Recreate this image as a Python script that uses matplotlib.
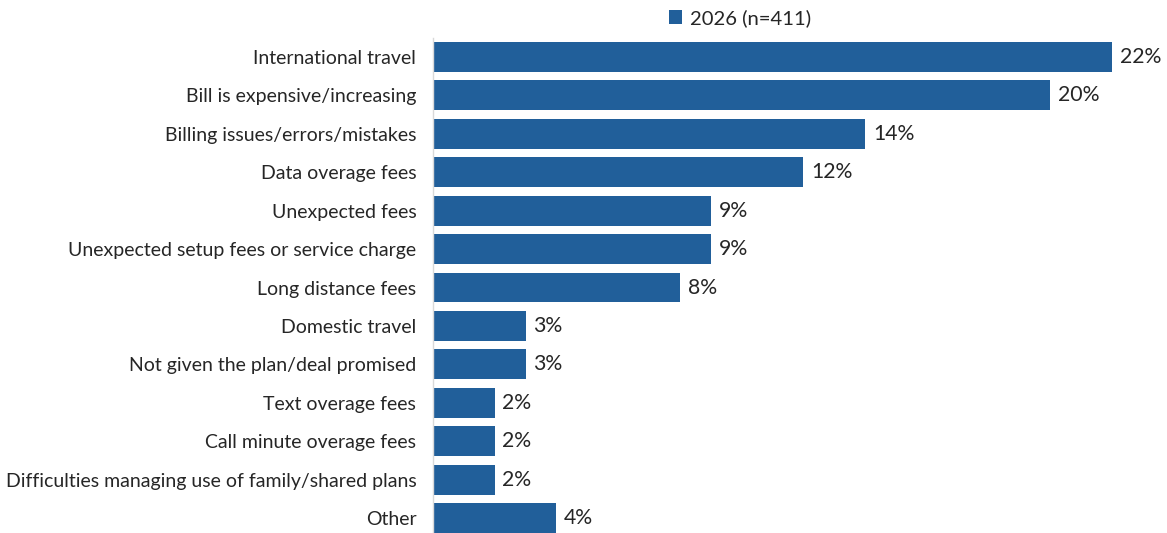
import matplotlib
matplotlib.use("Agg")
import matplotlib.pyplot as plt

categories = [
    "International travel",
    "Bill is expensive/increasing",
    "Billing issues/errors/mistakes",
    "Data overage fees",
    "Unexpected fees",
    "Unexpected setup fees or service charge",
    "Long distance fees",
    "Domestic travel",
    "Not given the plan/deal promised",
    "Text overage fees",
    "Call minute overage fees",
    "Difficulties managing use of family/shared plans",
    "Other",
]
values = [22, 20, 14, 12, 9, 9, 8, 3, 3, 2, 2, 2, 4]
series_name = "2026 (n=411)"

bar_color = "#215F9A"
text_color = "#262626"
plt.rcParams["font.family"] = ["Lato", "DejaVu Sans"]

W, H = 1167, 533
fig = plt.figure(figsize=(W / 100, H / 100), dpi=100)
ax_left, ax_right = 433, 1112
ax_top, ax_bot = 37.8, 537.2
ax = fig.add_axes([ax_left / W, 1 - ax_bot / H, (ax_right - ax_left) / W, (ax_bot - ax_top) / H])

y = list(range(len(categories)))
bars = ax.barh(y, values, height=0.78, color=bar_color, label=series_name, zorder=2)
ax.set_xlim(0, 22)
ax.set_ylim(len(categories) - 0.5, -0.5)

for yi, v in zip(y, values):
    ax.text(v + 0.25, yi, f"{v}%", va="center", ha="left", fontsize=15.3, color=text_color)

ax.set_yticks(y)
ax.set_yticklabels(categories, fontsize=14, color=text_color)
ax.tick_params(axis="y", length=0, pad=12)
ax.set_xticks([])
for s in ["top", "right", "bottom"]:
    ax.spines[s].set_visible(False)
ax.spines["left"].set_color("#D9D9D9")
ax.spines["left"].set_linewidth(1)

fig.legend(handles=[bars], labels=[series_name], loc="center", bbox_to_anchor=(740 / W, 1 - 18 / H),
           frameon=False, fontsize=14.6, handlelength=0.65, handleheight=0.65, handletextpad=0.4,
           labelcolor=text_color)

fig.savefig("out.png", dpi=100)
